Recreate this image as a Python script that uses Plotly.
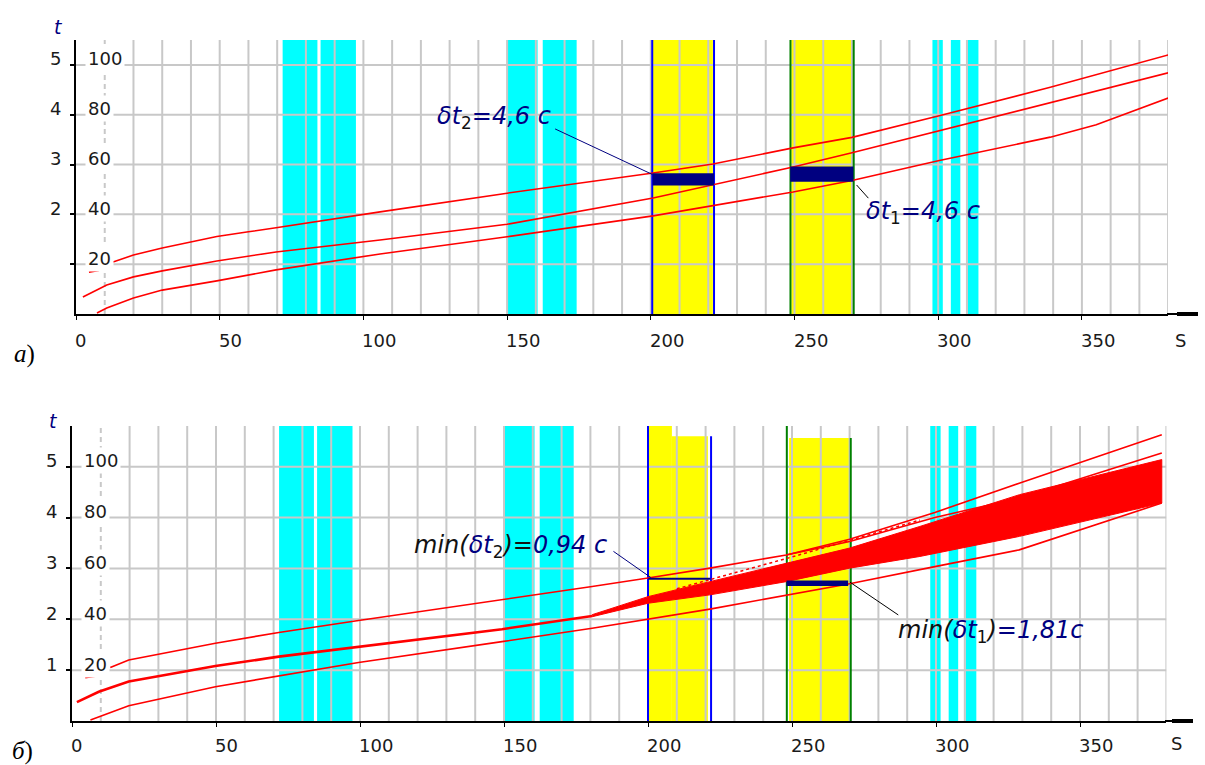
import plotly.graph_objects as go

# ---------------- data ----------------
x_tick_vals = [0, 50, 100, 150, 200, 250, 300, 350]
x_tick_text = ["0", "50", "100", "150", "200", "250", "300", "350"]
x_grid = [20, 30, 40, 50, 60, 70, 80, 90, 100, 110, 120, 130, 140, 150, 160, 170, 180, 190,
          200, 210, 220, 230, 240, 250, 260, 270, 280, 290, 300, 310, 320, 330, 340, 350,
          360, 370, 380]
x_dashed_grid = [10]
x_max = 380
y_tick_vals = [20, 40, 60, 80, 100]
y_tick_text = ["20", "40", "60", "80", "100"]
t_tick_text_a = ["", "2", "3", "4", "5"]
t_tick_text_b = ["1", "2", "3", "4", "5"]
y_max_a = 110
y_max_b = 116

cyan_x0 = [71.9, 85.1, 150.0, 162.4, 298.0, 304.4, 310.3]
cyan_x1 = [84.0, 97.4, 160.6, 174.2, 301.6, 307.7, 314.0]

# panel a
yel_a_x0 = [200.6, 248.9]
yel_a_x1 = [221.6, 270.3]
blue_a_x = [200.5, 222.0]
green_a_x = [248.6, 270.6]
bar_a_x0 = [200.6, 248.5]
bar_a_x1 = [222.0, 270.5]
bar_a_y0 = [51.6, 53.1]
bar_a_y1 = [56.5, 59.2]

a_upper_x = [12.9, 20, 30, 40, 49, 60, 69.6, 105.8, 150, 200.8, 221.6, 249.5, 270, 300, 339, 380]
a_upper_y = [20.9, 23.7, 26.5, 28.9, 31.1, 33.0, 34.6, 41.0, 48.5, 56.6, 60.2, 66.7, 70.9, 79.5, 91.0, 104.0]
a_dash_x = [4.5, 8.0]
a_dash_y = [16.8, 17.5]
a_mid_x = [2.4, 10.7, 20, 30, 49, 69.6, 105.8, 150, 200.8, 221.6, 249.5, 270, 300, 339, 380]
a_mid_y = [6.8, 11.6, 14.9, 17.3, 21.3, 24.9, 29.7, 36.0, 46.6, 51.8, 59.0, 64.7, 73.4, 84.7, 96.8]
a_low_x = [7.3, 10.7, 20, 30, 49, 69.6, 105.8, 150, 200.8, 221.6, 249.5, 270, 300, 339, 355, 380]
a_low_y = [0.4, 2.4, 6.4, 9.6, 13.3, 17.7, 24.1, 31.0, 39.4, 43.4, 49.0, 53.6, 61.5, 71.0, 76.0, 86.7]

# panel b
yel_b_x0 = [200.2, 208.3, 249.0]
yel_b_x1 = [208.3, 220.8, 270.1]
yel_b_top = [116, 112, 111.3]
blue_b_x = [200.0, 221.9]
blue_b_top = [116, 112]
green_b_x = [248.2, 270.4]
green_b_top = [116, 111.3]
bar_b_x0 = [200.1, 248.1]
bar_b_x1 = [221.7, 269.5]
bar_b_y0 = [55.5, 53.1]
bar_b_y1 = [56.3, 55.2]

b_upper_x = [13.3, 19.7, 49.8, 71.8, 99.5, 149.3, 180.6, 200, 221.5, 248, 270, 299.6, 328.9, 378.4]
b_upper_y = [21.0, 24.0, 30.6, 34.8, 39.5, 47.6, 52.9, 56.2, 60.1, 65.3, 71.5, 82.0, 93.5, 112.6]
b_upper2_x = [248, 270, 299.6, 328.9, 378.4]
b_upper2_y = [65.3, 70.6, 80.0, 87.7, 105.4]
b_dash_x = [4.6, 8.1]
b_dash_y = [17.0, 17.6]
b_mid_x = [1.7, 9.3, 19.7, 49.8, 71.8, 99.5, 149.3, 180.6]
b_mid_y = [7.4, 11.5, 15.5, 21.6, 25.3, 29.2, 36.1, 41.3]
b_low_x = [6.4, 19.7, 49.8, 71.8, 99.5, 149.3, 180.6, 221.5, 270, 299.6, 328.9, 378.4]
b_low_y = [0.4, 6.0, 13.5, 17.8, 23.0, 31.2, 36.5, 44.0, 54.0, 60.7, 67.3, 85.7]
fan_x = [180.6, 200, 221.5, 248, 270, 294.4, 329, 378.4]
fan_top = [41.8, 48.9, 54.8, 62.1, 68.0, 76.5, 89.0, 102.8]
fan_bot = [41.0, 46.3, 49.6, 54.8, 60.1, 64.7, 72.6, 85.7]
b_dot_x = [210, 250, 294.4]
b_dot_y = [52.0, 64.5, 79.0]

# ---------------- styling ----------------
W, H = 1205, 765
RED = "#ff0000"
CYAN = "#00ffff"
YEL = "#ffff00"
NAVY = "#000080"
GRID = "#c8c8c8"
TICKFONT = dict(family="DejaVu Sans", size=18, color="#1a1a1a")


def px(xp):
    return xp / W


def py(yp):
    return 1 - yp / H


fig = go.Figure()
shapes = []
annotations = []

panels = [
    dict(xa="x", ya="y", ymax=y_max_a, tt=t_tick_text_a, lab_shift=-26),
    dict(xa="x2", ya="y2", ymax=y_max_b, tt=t_tick_text_b, lab_shift=-24),
]

# cyan bands (both panels)
for p in panels:
    for a, b in zip(cyan_x0, cyan_x1):
        shapes.append(dict(type="rect", xref=p["xa"], yref=p["ya"], x0=a, x1=b, y0=0, y1=p["ymax"],
                           fillcolor=CYAN, line_width=0, layer="below"))

# yellow bands
for a, b in zip(yel_a_x0, yel_a_x1):
    shapes.append(dict(type="rect", xref="x", yref="y", x0=a, x1=b, y0=0, y1=y_max_a,
                       fillcolor=YEL, line_width=0, layer="below"))
for a, b, t in zip(yel_b_x0, yel_b_x1, yel_b_top):
    shapes.append(dict(type="rect", xref="x2", yref="y2", x0=a, x1=b, y0=0, y1=t,
                       fillcolor=YEL, line_width=0, layer="below"))

# grid
for p in panels:
    for gx in x_grid:
        shapes.append(dict(type="line", xref=p["xa"], yref=p["ya"], x0=gx, x1=gx, y0=0, y1=p["ymax"],
                           line=dict(color=GRID, width=2), layer="below"))
    for gx in x_dashed_grid:
        shapes.append(dict(type="line", xref=p["xa"], yref=p["ya"], x0=gx, x1=gx, y0=0, y1=p["ymax"],
                           line=dict(color=GRID, width=2, dash="5px,4px"), layer="below"))
    for gy in y_tick_vals:
        shapes.append(dict(type="line", xref=p["xa"], yref=p["ya"], x0=0, x1=x_max, y0=gy, y1=gy,
                           line=dict(color=GRID, width=2), layer="below"))

# band edge lines
for gx in blue_a_x:
    shapes.append(dict(type="line", xref="x", yref="y", x0=gx, x1=gx, y0=0, y1=y_max_a,
                       line=dict(color="#0000ff", width=2), layer="between"))
for gx in green_a_x:
    shapes.append(dict(type="line", xref="x", yref="y", x0=gx, x1=gx, y0=0, y1=y_max_a,
                       line=dict(color="#008000", width=2), layer="between"))
for gx, t in zip(blue_b_x, blue_b_top):
    shapes.append(dict(type="line", xref="x2", yref="y2", x0=gx, x1=gx, y0=0, y1=t,
                       line=dict(color="#0000ff", width=2), layer="between"))
for gx, t in zip(green_b_x, green_b_top):
    shapes.append(dict(type="line", xref="x2", yref="y2", x0=gx, x1=gx, y0=0, y1=t,
                       line=dict(color="#008000", width=2), layer="between"))

# navy bars
for a, b, c, d in zip(bar_a_x0, bar_a_x1, bar_a_y0, bar_a_y1):
    shapes.append(dict(type="rect", xref="x", yref="y", x0=a, x1=b, y0=c, y1=d,
                       fillcolor=NAVY, line_width=0, layer="above"))
for a, b, c, d in zip(bar_b_x0, bar_b_x1, bar_b_y0, bar_b_y1):
    shapes.append(dict(type="rect", xref="x2", yref="y2", x0=a, x1=b, y0=c, y1=d,
                       fillcolor=NAVY, line_width=0, layer="above"))

# leader lines
shapes.append(dict(type="line", xref="x", yref="y", x0=166.7, y0=74.3, x1=200.6, y1=56.0,
                   line=dict(color=NAVY, width=1), layer="above"))
shapes.append(dict(type="line", xref="x", yref="y", x0=271.6, y0=51.8, x1=275.7, y1=46.5,
                   line=dict(color="#000000", width=1), layer="above"))
shapes.append(dict(type="line", xref="x2", yref="y2", x0=188.0, y0=66.7, x1=201.0, y1=56.4,
                   line=dict(color=NAVY, width=1), layer="above"))
shapes.append(dict(type="line", xref="x2", yref="y2", x0=270.1, y0=54.6, x1=286.9, y1=41.7,
                   line=dict(color="#000000", width=1), layer="above"))

# x-axis extension with arrow end
for y_ax, x_end, x_from in [(314, 1198, 1167), (721, 1193, 1165)]:
    shapes.append(dict(type="line", xref="paper", yref="paper", x0=px(x_from), x1=px(x_end),
                       y0=py(y_ax), y1=py(y_ax), line=dict(color="black", width=2)))
    shapes.append(dict(type="rect", xref="paper", yref="paper", x0=px(x_end - 21), x1=px(x_end),
                       y0=py(y_ax + 2), y1=py(y_ax - 2), fillcolor="black", line_width=0))


# ---------------- traces ----------------
def red_line(x, y, xa, ya, width=1.6, dash="solid"):
    fig.add_trace(go.Scatter(x=x, y=y, mode="lines", xaxis=xa, yaxis=ya,
                             line=dict(color=RED, width=width, dash=dash),
                             hoverinfo="skip", showlegend=False, cliponaxis=False))


red_line(a_upper_x, a_upper_y, "x", "y")
red_line(a_dash_x, a_dash_y, "x", "y")
red_line(a_mid_x, a_mid_y, "x", "y")
red_line(a_low_x, a_low_y, "x", "y")

fig.add_trace(go.Scatter(x=fan_x + fan_x[::-1], y=fan_top + fan_bot[::-1], mode="lines",
                         fill="toself", fillcolor=RED, line=dict(color=RED, width=1),
                         xaxis="x2", yaxis="y2", hoverinfo="skip", showlegend=False))
red_line(b_upper_x, b_upper_y, "x2", "y2")
red_line(b_upper2_x, b_upper2_y, "x2", "y2")
red_line(b_dot_x, b_dot_y, "x2", "y2", width=1.5, dash="dot")
red_line(b_dash_x, b_dash_y, "x2", "y2")
red_line(b_mid_x, b_mid_y, "x2", "y2", width=2.6)
red_line(b_low_x, b_low_y, "x2", "y2")

# ---------------- axis labels ----------------
for p in panels:
    for v, t_right, t_left in zip(y_tick_vals, y_tick_text, p["tt"]):
        annotations.append(dict(xref=p["xa"] + " domain", yref=p["ya"], x=0, y=v, text=t_right,
                                xanchor="left", yanchor="middle", xshift=9, yshift=6,
                                showarrow=False, bgcolor="white", borderpad=2, font=TICKFONT))
        if t_left:
            annotations.append(dict(xref=p["xa"] + " domain", yref=p["ya"], x=0, y=v, text=t_left,
                                    xanchor="right", yanchor="middle", xshift=-13, yshift=6,
                                    showarrow=False, font=TICKFONT))
    # x tick labels, left-aligned at the tick like the original
    for v, t in zip(x_tick_vals, x_tick_text):
        annotations.append(dict(xref=p["xa"], yref=p["ya"] + " domain", x=v, y=0, text=t,
                                xanchor="left", yanchor="middle", xshift=-3, yshift=p["lab_shift"],
                                showarrow=False, font=TICKFONT))

# "t" axis titles and "S"
TFONT = dict(family="DejaVu Sans", size=19, color=NAVY)
annotations.append(dict(xref="paper", yref="paper", x=px(58), y=py(27), text="<i>t</i>",
                        xanchor="center", yanchor="middle", showarrow=False, font=TFONT))
annotations.append(dict(xref="paper", yref="paper", x=px(53), y=py(421), text="<i>t</i>",
                        xanchor="center", yanchor="middle", showarrow=False, font=TFONT))
annotations.append(dict(xref="paper", yref="paper", x=px(1180), y=py(340), text="S",
                        xanchor="center", yanchor="middle", showarrow=False, font=TICKFONT))
annotations.append(dict(xref="paper", yref="paper", x=px(1176), y=py(743), text="S",
                        xanchor="center", yanchor="middle", showarrow=False, font=TICKFONT))

# panel letters
LFONT = dict(family="Liberation Serif", size=25, color="black")
annotations.append(dict(xref="paper", yref="paper", x=px(24), y=py(354), text="<i>а</i>)",
                        xanchor="center", yanchor="middle", showarrow=False, font=LFONT))
annotations.append(dict(xref="paper", yref="paper", x=px(22), y=py(751), text="<i>б</i>)",
                        xanchor="center", yanchor="middle", showarrow=False, font=LFONT))

# value labels
BK = "#111111"
AFONT = dict(family="DejaVu Sans", size=24, color=NAVY)
annotations.append(dict(xref="x", yref="y", x=145.6, y=78.7, showarrow=False, font=AFONT,
                        xanchor="center", yanchor="middle",
                        text=f"<i>δt</i><span style='color:{BK}'><sub>2</sub></span><i>=4,6 c</i>"))
annotations.append(dict(xref="x", yref="y", x=294.6, y=40.6, showarrow=False, font=AFONT,
                        xanchor="center", yanchor="middle",
                        text=f"<i>δt</i><span style='color:{BK}'><sub>1</sub></span><i>=4,6 c</i>"))
annotations.append(dict(xref="x2", yref="y2", x=152.4, y=68.5, showarrow=False, font=AFONT,
                        xanchor="center", yanchor="middle",
                        text=(f"<span style='color:{BK}'><i>min(</i></span><i>δt</i>"
                              f"<span style='color:{BK}'><sub>2</sub><i>)=</i></span><i>0,94 c</i>")))
annotations.append(dict(xref="x2", yref="y2", x=319.1, y=35.0, showarrow=False, font=AFONT,
                        xanchor="center", yanchor="middle",
                        text=(f"<span style='color:{BK}'><i>min(</i></span><i>δt</i>"
                              f"<span style='color:{BK}'><sub>1</sub><i>)</i></span><i>=1,81c</i>")))

# ---------------- layout ----------------
xcommon = dict(range=[0, x_max], showgrid=False, zeroline=False, showline=True, linecolor="black",
               linewidth=2, tickmode="array", tickvals=x_tick_vals, showticklabels=False,
               ticks="outside", ticklen=4, tickwidth=1, tickcolor="black", fixedrange=True)
ycommon = dict(showgrid=False, zeroline=False, showline=True, linecolor="black", linewidth=2,
               tickmode="array", tickvals=y_tick_vals, ticks="outside", ticklen=4, tickwidth=2,
               tickcolor="black", showticklabels=False, fixedrange=True)

fig.update_layout(
    width=W, height=H, margin=dict(l=0, r=0, t=0, b=0, autoexpand=False),
    paper_bgcolor="white", plot_bgcolor="rgba(0,0,0,0)", showlegend=False,
    xaxis=dict(domain=[px(76), px(76 + 380 * 2.874)], anchor="y", automargin=False, **xcommon),
    yaxis=dict(domain=[py(314), py(40)], anchor="x", range=[0, y_max_a], automargin=False, **ycommon),
    xaxis2=dict(domain=[px(72), px(72 + 380 * 2.88)], anchor="y2", automargin=False, **xcommon),
    yaxis2=dict(domain=[py(721), py(426)], anchor="x2", range=[0, y_max_b], automargin=False, **ycommon),
    shapes=shapes, annotations=annotations,
)

fig.write_html("out.html", config={"displayModeBar": False},
               post_script="document.body.style.margin='0';document.body.style.overflow='hidden';")
